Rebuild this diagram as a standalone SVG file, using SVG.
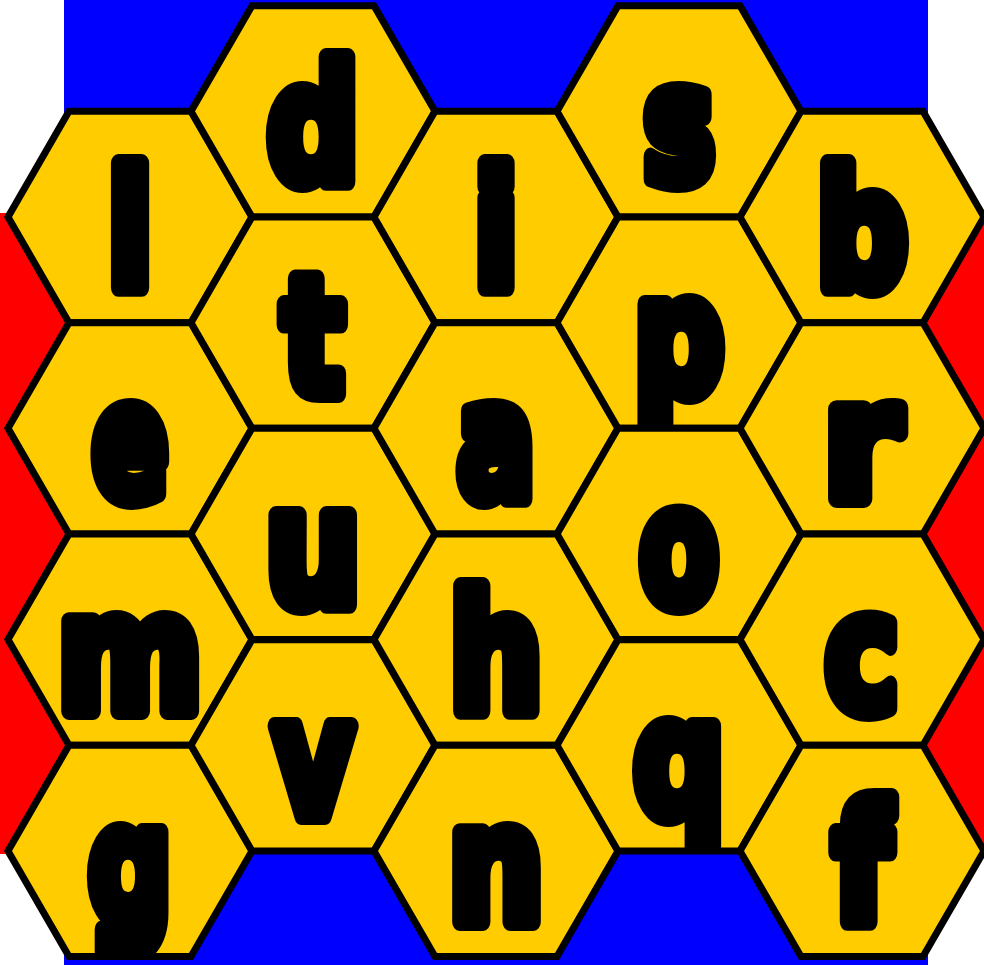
<svg xmlns="http://www.w3.org/2000/svg" xmlns:xlink="http://www.w3.org/1999/xlink" width="984" height="965" viewBox="0 0 984 965">
<style>
.hf{fill:#ffcc00;stroke:none}
.hl{fill:none;stroke:#000;stroke-width:7;stroke-linejoin:miter}
.lt{font-family:"DejaVu Sans","Liberation Sans",sans-serif;font-weight:bold;font-size:164px;text-anchor:middle;fill:#000;stroke:#000;stroke-width:18;stroke-linejoin:round}
</style>
<defs>
<polygon id="hex" points="-122,0 -61,-105.655 61,-105.655 122,0 61,105.655 -61,105.655"/>
<clipPath id="hc" clipPathUnits="userSpaceOnUse"><use xlink:href="#hex"/></clipPath>
</defs>
<g id="background">
<rect x="64" y="0" width="864" height="113" fill="#0000ff"/>
<rect x="64" y="849" width="864" height="116" fill="#0000ff"/>
<rect x="0" y="213" width="72" height="641" fill="#ff0000"/>
<rect x="912" y="213" width="72" height="641" fill="#ff0000"/>
</g>
<g id="connectors"/>
<g id="hex-l" transform="translate(130,217)"><use xlink:href="#hex" class="hf"/><g clip-path="url(#hc)"><text class="lt" transform="translate(0,71) scale(0.82,1)">l</text></g><use xlink:href="#hex" class="hl"/></g>
<g id="hex-e" transform="translate(130,428.31)"><use xlink:href="#hex" class="hf"/><g clip-path="url(#hc)"><text class="lt" transform="translate(0,71) scale(0.69,1)">e</text></g><use xlink:href="#hex" class="hl"/></g>
<g id="hex-m" transform="translate(130,639.62)"><use xlink:href="#hex" class="hf"/><g clip-path="url(#hc)"><text class="lt" transform="translate(0,71) scale(0.85,1)">m</text></g><use xlink:href="#hex" class="hl"/></g>
<g id="hex-g" transform="translate(130,850.93)"><use xlink:href="#hex" class="hf"/><g clip-path="url(#hc)"><text class="lt" transform="translate(0,71) scale(0.715,1)">g</text></g><use xlink:href="#hex" class="hl"/></g>
<g id="hex-d" transform="translate(313,111.35)"><use xlink:href="#hex" class="hf"/><g clip-path="url(#hc)"><text class="lt" transform="translate(0,71) scale(0.785,1)">d</text></g><use xlink:href="#hex" class="hl"/></g>
<g id="hex-t" transform="translate(313,322.66)"><use xlink:href="#hex" class="hf"/><g clip-path="url(#hc)"><text class="lt" transform="translate(0,71) scale(0.79,1)">t</text></g><use xlink:href="#hex" class="hl"/></g>
<g id="hex-u" transform="translate(313,533.97)"><use xlink:href="#hex" class="hf"/><g clip-path="url(#hc)"><text class="lt" transform="translate(0,71) scale(0.82,1)">u</text></g><use xlink:href="#hex" class="hl"/></g>
<g id="hex-v" transform="translate(313,745.28)"><use xlink:href="#hex" class="hf"/><g clip-path="url(#hc)"><text class="lt" transform="translate(0,71) scale(0.76,1)">v</text></g><use xlink:href="#hex" class="hl"/></g>
<g id="hex-i" transform="translate(496,217)"><use xlink:href="#hex" class="hf"/><g clip-path="url(#hc)"><text class="lt" transform="translate(0,71) scale(0.8,1)">i</text></g><use xlink:href="#hex" class="hl"/></g>
<g id="hex-a" transform="translate(496,428.31)"><use xlink:href="#hex" class="hf"/><g clip-path="url(#hc)"><text class="lt" transform="translate(0,71) scale(0.71,1)">a</text></g><use xlink:href="#hex" class="hl"/></g>
<g id="hex-h" transform="translate(496,639.62)"><use xlink:href="#hex" class="hf"/><g clip-path="url(#hc)"><text class="lt" transform="translate(0,71) scale(0.8,1)">h</text></g><use xlink:href="#hex" class="hl"/></g>
<g id="hex-n" transform="translate(496,850.93)"><use xlink:href="#hex" class="hf"/><g clip-path="url(#hc)"><text class="lt" transform="translate(0,71) scale(0.82,1)">n</text></g><use xlink:href="#hex" class="hl"/></g>
<g id="hex-s" transform="translate(679,111.35)"><use xlink:href="#hex" class="hf"/><g clip-path="url(#hc)"><text class="lt" transform="translate(0,71) scale(0.74,1)">s</text></g><use xlink:href="#hex" class="hl"/></g>
<g id="hex-p" transform="translate(679,322.66)"><use xlink:href="#hex" class="hf"/><g clip-path="url(#hc)"><text class="lt" transform="translate(0,71) scale(0.77,1)">p</text></g><use xlink:href="#hex" class="hl"/></g>
<g id="hex-o" transform="translate(679,533.97)"><use xlink:href="#hex" class="hf"/><g clip-path="url(#hc)"><text class="lt" transform="translate(0,71) scale(0.705,1)">o</text></g><use xlink:href="#hex" class="hl"/></g>
<g id="hex-q" transform="translate(679,745.28)"><use xlink:href="#hex" class="hf"/><g clip-path="url(#hc)"><text class="lt" transform="translate(0,71) scale(0.78,1)">q</text></g><use xlink:href="#hex" class="hl"/></g>
<g id="hex-b" transform="translate(862,217)"><use xlink:href="#hex" class="hf"/><g clip-path="url(#hc)"><text class="lt" transform="translate(0,71) scale(0.78,1)">b</text></g><use xlink:href="#hex" class="hl"/></g>
<g id="hex-r" transform="translate(862,428.31)"><use xlink:href="#hex" class="hf"/><g clip-path="url(#hc)"><text class="lt" transform="translate(0,71) scale(0.95,1)">r</text></g><use xlink:href="#hex" class="hl"/></g>
<g id="hex-c" transform="translate(862,639.62)"><use xlink:href="#hex" class="hf"/><g clip-path="url(#hc)"><text class="lt" transform="translate(0,71) scale(0.76,1)">c</text></g><use xlink:href="#hex" class="hl"/></g>
<g id="hex-f" transform="translate(862,850.93)"><use xlink:href="#hex" class="hf"/><g clip-path="url(#hc)"><text class="lt" transform="translate(0,71) scale(0.81,1)">f</text></g><use xlink:href="#hex" class="hl"/></g>
</svg>
